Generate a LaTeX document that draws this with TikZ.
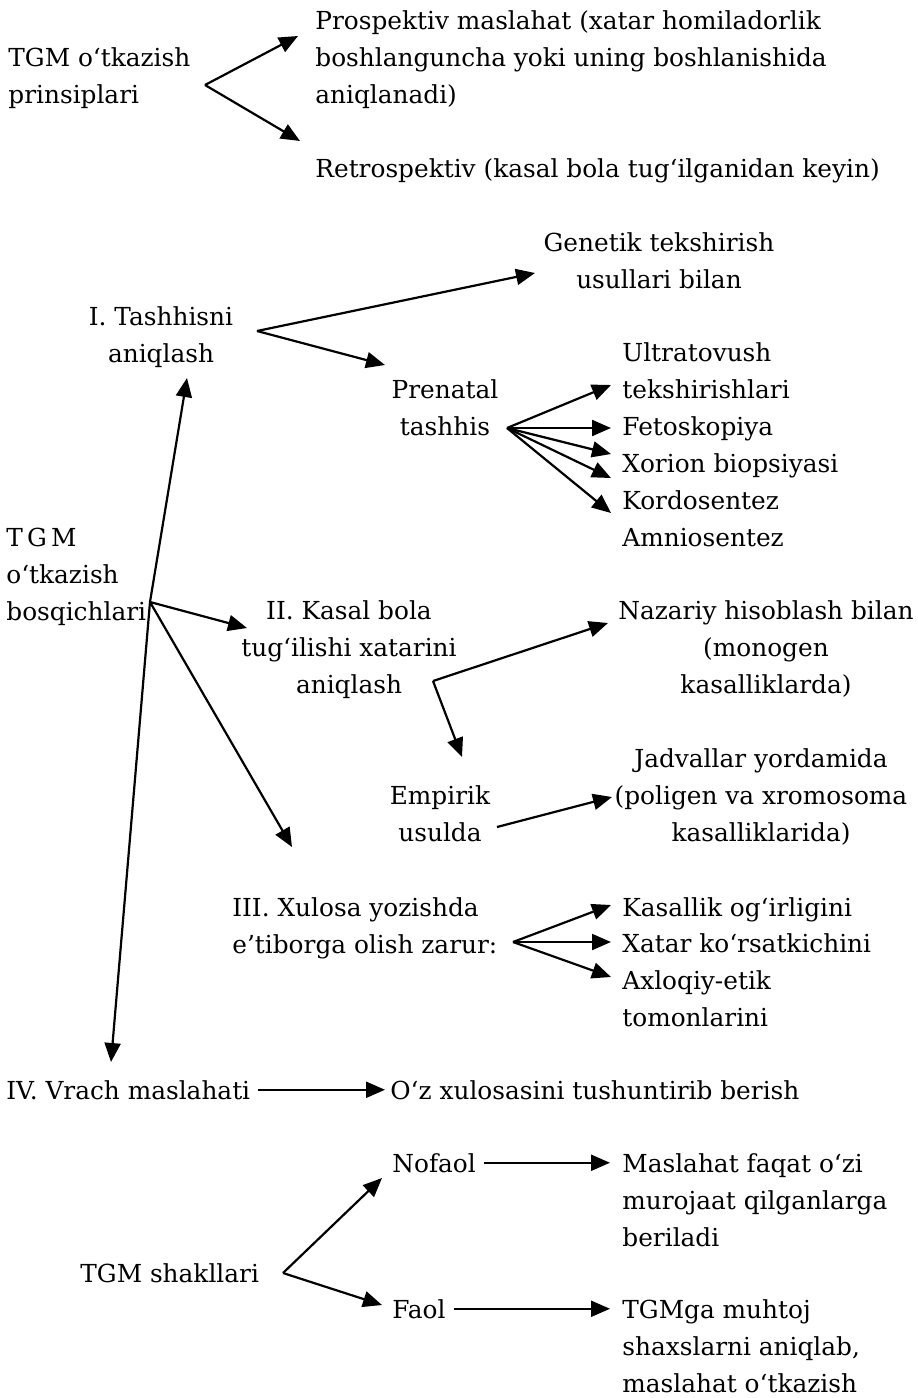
\documentclass[tikz,border=0pt]{standalone}
\usepackage{fontspec}
\setmainfont{DejaVu Serif}
\usepackage{tikz}
\usetikzlibrary{arrows.meta, positioning, calc}

\tikzset{
  txt/.style={inner sep=0pt, font=\fontsize{12.4pt}{18.5pt}\selectfont, align=left, anchor=base west},
  ctxt/.style={txt, align=center, anchor=base},
  arr/.style={-{Triangle[length=9.5pt, width=8pt]}, line width=1.1pt},
}

\begin{document}
\begin{tikzpicture}[x=0.5pt, y=-0.5pt]
  \useasboundingbox (0,0) rectangle (917,1398);

  % principles (node y = baseline of last line)
  \node[txt] (prin) at (8,103) {TGM o‘tkazish\\prinsiplari};
  \node[txt] (prosp) at (315,103) {Prospektiv maslahat (xatar homiladorlik\\boshlanguncha yoki uning boshlanishida\\aniqlanadi)};
  \node[txt] (retro) at (315,177) {Retrospektiv (kasal bola tug‘ilganidan keyin)};
  \coordinate (prinJ) at (205,85);
  \coordinate (prospT) at (298,36);
  \coordinate (retroT) at (300,141);
  \draw[arr] (prinJ) -- (prospT);
  \draw[arr] (prinJ) -- (retroT);

  % stages
  \node[txt] (bosq) at (6,620) {T\,G\,M\\o‘tkazish\\bosqichlari};
  \node[ctxt] (tash) at (161,362) {I. Tashhisni\\aniqlash};
  \node[ctxt] (genet) at (659,288) {Genetik tekshirish\\usullari bilan};
  \node[ctxt] (pren) at (445,435) {Prenatal\\tashhis};
  \node[txt] (ultra) at (622,398) {Ultratovush\\tekshirishlari};
  \node[txt] (feto) at (622,435) {Fetoskopiya};
  \node[txt] (xor) at (622,472) {Xorion biopsiyasi};
  \node[txt] (kord) at (622,509) {Kordosentez};
  \node[txt] (amni) at (622,546) {Amniosentez};
  \node[ctxt] (kasal) at (349,693) {II. Kasal bola\\tug‘ilishi xatarini\\aniqlash};
  \node[ctxt] (naz) at (766,693) {Nazariy hisoblash bilan\\(monogen\\kasalliklarda)};
  \node[ctxt] (emp) at (440,841) {Empirik\\usulda};
  \node[ctxt] (jad) at (761,841) {Jadvallar yordamida\\(poligen va xromosoma\\kasalliklarida)};
  \node[txt] (xul) at (232,953) {III. Xulosa yozishda\\e’tiborga olish zarur:};
  \node[txt] (kog) at (622,916) {Kasallik og‘irligini};
  \node[txt] (xko) at (622,952) {Xatar ko‘rsatkichini};
  \node[txt] (axl) at (622,1026) {Axloqiy-etik\\tomonlarini};
  \node[txt] (vrach) at (6,1099) {IV. Vrach maslahati};
  \node[txt] (oz) at (390,1099) {O‘z xulosasini tushuntirib berish};

  \coordinate (bosqJ) at (150,602);
  \coordinate (tashT) at (187,378);
  \coordinate (vrachT) at (111,1062);
  \coordinate (kasalT) at (247,628);
  \coordinate (xulT) at (292,847);
  \draw[arr] (bosqJ) -- (tashT);
  \draw[arr] (bosqJ) -- (vrachT);
  \draw[arr] (bosqJ) -- (kasalT);
  \draw[arr] (bosqJ) -- (xulT);

  \coordinate (tashJ) at (257,331);
  \draw[arr] (tashJ) -- (535,273) coordinate (genetT);
  \draw[arr] (tashJ) -- (385,365) coordinate (prenT);

  \coordinate (prenJ) at (507,428);
  \foreach \ty in {385,428,454,478,513}
    \draw[arr] (prenJ) -- (611,\ty);

  \coordinate (kasalJ) at (433,681);
  \draw[arr] (kasalJ) -- (608,623) coordinate (nazT);
  \draw[arr] (kasalJ) -- (462,757) coordinate (empT);
  \coordinate (empJ) at (497,827);
  \draw[arr] (empJ) -- (612,797) coordinate (jadT);

  \coordinate (xulJ) at (513,942);
  \foreach \ty in {905,942,977}
    \draw[arr] (xulJ) -- (611,\ty);

  \draw[arr] ([xshift=3.5pt]vrach.east) -- ([xshift=-2.5pt]oz.west);

  % forms
  \node[txt] (shak) at (80,1282) {TGM shakllari};
  \node[txt] (nof) at (392,1172) {Nofaol};
  \node[txt] (faol) at (392,1318) {Faol};
  \node[txt] (masl) at (622,1246) {Maslahat faqat o‘zi\\murojaat qilganlarga\\beriladi};
  \node[txt] (tgmga) at (622,1392) {TGMga muhtoj\\shaxslarni aniqlab,\\maslahat o‘tkazish};
  \coordinate (shakJ) at (283,1273);
  \draw[arr] (shakJ) -- (382,1178) coordinate (nofT);
  \draw[arr] (shakJ) -- (382,1305) coordinate (faolT);
  \draw[arr] ([xshift=4pt]nof.east) -- ([xshift=-6pt]nof.east -| masl.west);
  \draw[arr] ([xshift=4pt]faol.east) -- ([xshift=-6pt]faol.east -| tgmga.west);
\end{tikzpicture}
\end{document}
